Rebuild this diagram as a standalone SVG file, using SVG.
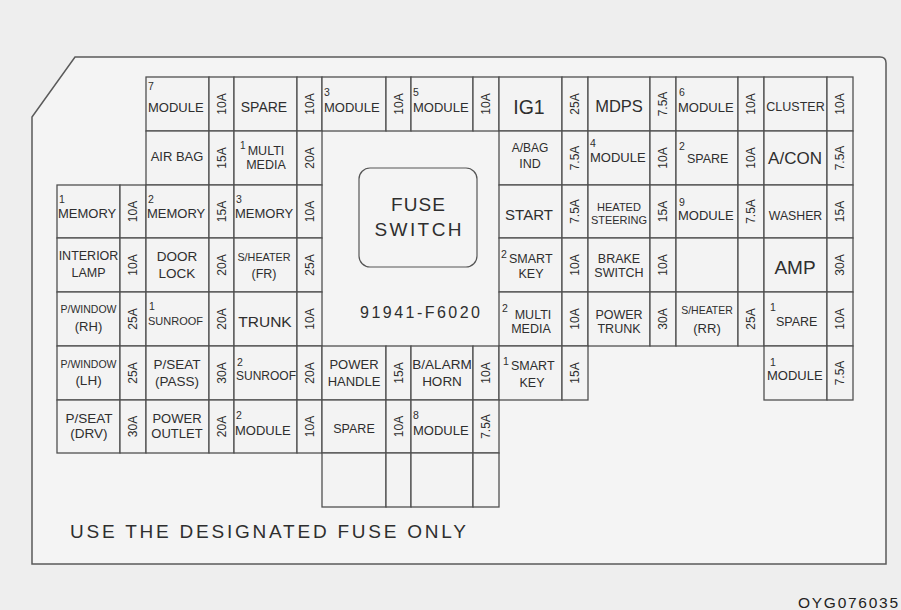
<svg xmlns="http://www.w3.org/2000/svg" width="901" height="610" viewBox="0 0 901 610">
<style>
text{font-family:"Liberation Sans",Arial,Helvetica,sans-serif;fill:#2e2e2e}
.c{fill:#f3f3f3;stroke:#505050;stroke-width:1.3}
.m{text-anchor:middle}
.a{text-anchor:middle;font-size:12px}
.s{font-size:10.5px}
.md{font-size:13px}
</style>
<rect x="0" y="0" width="901" height="610" fill="#eeeeee"/>
<path d="M75,57 H880 Q886,57 886,63 V564 H32 V117 Z" fill="#f4f4f4" stroke="#5a5a5a" stroke-width="1.5"/>
<g id="connectors"/>

<!-- Row 0 -->
<g id="r0B"><rect class="c" x="146" y="77" width="63" height="54"/><rect class="c" x="209" y="77" width="25" height="54"/>
<text class="s" x="148" y="90">7</text><text class="md" x="148" y="112">MODULE</text>
<text class="a" transform="translate(225.8,104) rotate(-90)">10A</text></g>
<g id="r0C"><rect class="c" x="234" y="77" width="63" height="54"/><rect class="c" x="297" y="77" width="25" height="54"/>
<text class="m" x="264" y="112" font-size="14">SPARE</text>
<text class="a" transform="translate(313.8,104) rotate(-90)">10A</text></g>
<g id="r0D"><rect class="c" x="322" y="77" width="64" height="54"/><rect class="c" x="386" y="77" width="25" height="54"/>
<text class="s" x="324" y="96">3</text><text class="md" x="324" y="112">MODULE</text>
<text class="a" transform="translate(402.8,104) rotate(-90)">10A</text></g>
<g id="r0E"><rect class="c" x="411" y="77" width="62" height="54"/><rect class="c" x="473" y="77" width="26" height="54"/>
<text class="s" x="413" y="96">5</text><text class="md" x="413" y="112">MODULE</text>
<text class="a" transform="translate(490.3,104) rotate(-90)">10A</text></g>
<g id="r0F"><rect class="c" x="499" y="77" width="63" height="54"/><rect class="c" x="562" y="77" width="26" height="54"/>
<text class="m" x="529" y="114" font-size="19.5">IG1</text>
<text class="a" transform="translate(579.3,104) rotate(-90)">25A</text></g>
<g id="r0G"><rect class="c" x="588" y="77" width="62" height="54"/><rect class="c" x="650" y="77" width="26" height="54"/>
<text class="m" x="619" y="112" font-size="16.5">MDPS</text>
<text class="a" transform="translate(667.3,104) rotate(-90)">7.5A</text></g>
<g id="r0H"><rect class="c" x="676" y="77" width="62" height="54"/><rect class="c" x="738" y="77" width="26" height="54"/>
<text class="s" x="679" y="96">6</text><text class="md" x="678" y="112">MODULE</text>
<text class="a" transform="translate(755.3,104) rotate(-90)">10A</text></g>
<g id="r0I"><rect class="c" x="764" y="77" width="63" height="54"/><rect class="c" x="827" y="77" width="26" height="54"/>
<text class="m" x="795.5" y="111" font-size="12.5">CLUSTER</text>
<text class="a" transform="translate(844.3,104) rotate(-90)">10A</text></g>

<!-- Row 1 -->
<g id="r1B"><rect class="c" x="146" y="131" width="63" height="54"/><rect class="c" x="209" y="131" width="25" height="54"/>
<text class="m" x="177" y="161" font-size="13">AIR BAG</text>
<text class="a" transform="translate(225.8,158) rotate(-90)">15A</text></g>
<g id="r1C"><rect class="c" x="234" y="131" width="63" height="54"/><rect class="c" x="297" y="131" width="25" height="54"/>
<text x="240" y="149" font-size="10">1</text>
<text class="m" x="266" y="155" font-size="12.5">MULTI</text><text class="m" x="266" y="169" font-size="12.5">MEDIA</text>
<text class="a" transform="translate(313.8,158) rotate(-90)">20A</text></g>
<g id="r1F"><rect class="c" x="499" y="131" width="63" height="54"/><rect class="c" x="562" y="131" width="26" height="54"/>
<text class="m" x="530" y="152" font-size="12">A/BAG</text><text class="m" x="530" y="168" font-size="12.5">IND</text>
<text class="a" transform="translate(579.3,158) rotate(-90)">7.5A</text></g>
<g id="r1G"><rect class="c" x="588" y="131" width="62" height="54"/><rect class="c" x="650" y="131" width="26" height="54"/>
<text class="s" x="590" y="147">4</text><text class="md" x="590" y="162">MODULE</text>
<text class="a" transform="translate(667.3,158) rotate(-90)">10A</text></g>
<g id="r1H"><rect class="c" x="676" y="131" width="62" height="54"/><rect class="c" x="738" y="131" width="26" height="54"/>
<text class="s" x="679" y="150">2</text><text x="687" y="163" font-size="12.5">SPARE</text>
<text class="a" transform="translate(755.3,158) rotate(-90)">10A</text></g>
<g id="r1I"><rect class="c" x="764" y="131" width="63" height="54"/><rect class="c" x="827" y="131" width="26" height="54"/>
<text class="m" x="795" y="164" font-size="17">A/CON</text>
<text class="a" transform="translate(844.3,158) rotate(-90)">7.5A</text></g>

<!-- Row 2 -->
<g id="r2A"><rect class="c" x="57" y="185" width="63" height="53"/><rect class="c" x="120" y="185" width="26" height="53"/>
<text class="s" x="59" y="203">1</text><text class="md" x="58" y="218">MEMORY</text>
<text class="a" transform="translate(137.3,211.5) rotate(-90)">10A</text></g>
<g id="r2B"><rect class="c" x="146" y="185" width="63" height="53"/><rect class="c" x="209" y="185" width="25" height="53"/>
<text class="s" x="148" y="203">2</text><text class="md" x="147" y="218">MEMORY</text>
<text class="a" transform="translate(225.8,211.5) rotate(-90)">15A</text></g>
<g id="r2C"><rect class="c" x="234" y="185" width="63" height="53"/><rect class="c" x="297" y="185" width="25" height="53"/>
<text class="s" x="236" y="203">3</text><text class="md" x="235" y="218">MEMORY</text>
<text class="a" transform="translate(313.8,211.5) rotate(-90)">10A</text></g>
<g id="r2F"><rect class="c" x="499" y="185" width="63" height="53"/><rect class="c" x="562" y="185" width="26" height="53"/>
<text class="m" x="529" y="220" font-size="15">START</text>
<text class="a" transform="translate(579.3,211.5) rotate(-90)">7.5A</text></g>
<g id="r2G"><rect class="c" x="588" y="185" width="62" height="53"/><rect class="c" x="650" y="185" width="26" height="53"/>
<text class="m" x="619" y="211" font-size="11">HEATED</text><text class="m" x="619" y="224" font-size="11">STEERING</text>
<text class="a" transform="translate(667.3,211.5) rotate(-90)">15A</text></g>
<g id="r2H"><rect class="c" x="676" y="185" width="62" height="53"/><rect class="c" x="738" y="185" width="26" height="53"/>
<text class="s" x="679" y="206">9</text><text class="md" x="678" y="220">MODULE</text>
<text class="a" transform="translate(755.3,211.5) rotate(-90)">7.5A</text></g>
<g id="r2I"><rect class="c" x="764" y="185" width="63" height="53"/><rect class="c" x="827" y="185" width="26" height="53"/>
<text class="m" x="795.5" y="220" font-size="12.3">WASHER</text>
<text class="a" transform="translate(844.3,211.5) rotate(-90)">15A</text></g>

<!-- Row 3 -->
<g id="r3A"><rect class="c" x="57" y="238" width="63" height="54"/><rect class="c" x="120" y="238" width="26" height="54"/>
<text class="m" x="88.5" y="260" font-size="12.5">INTERIOR</text><text class="m" x="88.5" y="277" font-size="12.5">LAMP</text>
<text class="a" transform="translate(137.3,265) rotate(-90)">10A</text></g>
<g id="r3B"><rect class="c" x="146" y="238" width="63" height="54"/><rect class="c" x="209" y="238" width="25" height="54"/>
<text class="m" x="177" y="261" font-size="13.5">DOOR</text><text class="m" x="177" y="278" font-size="13.5">LOCK</text>
<text class="a" transform="translate(225.8,265) rotate(-90)">20A</text></g>
<g id="r3C"><rect class="c" x="234" y="238" width="63" height="54"/><rect class="c" x="297" y="238" width="25" height="54"/>
<text class="m" x="264" y="261" font-size="10.8">S/HEATER</text><text class="m" x="264" y="278" font-size="12.5">(FR)</text>
<text class="a" transform="translate(313.8,265) rotate(-90)">25A</text></g>
<g id="r3F"><rect class="c" x="499" y="238" width="63" height="54"/><rect class="c" x="562" y="238" width="26" height="54"/>
<text class="s" x="501" y="258">2</text><text x="509" y="263" font-size="12.5">SMART</text><text class="m" x="531" y="278" font-size="12.5">KEY</text>
<text class="a" transform="translate(579.3,265) rotate(-90)">10A</text></g>
<g id="r3G"><rect class="c" x="588" y="238" width="62" height="54"/><rect class="c" x="650" y="238" width="26" height="54"/>
<text class="m" x="619" y="263" font-size="12.5">BRAKE</text><text class="m" x="619" y="277" font-size="12.5">SWITCH</text>
<text class="a" transform="translate(667.3,265) rotate(-90)">10A</text></g>
<g id="r3H"><rect class="c" x="676" y="238" width="62" height="54"/><rect class="c" x="738" y="238" width="26" height="54"/></g>
<g id="r3I"><rect class="c" x="764" y="238" width="63" height="54"/><rect class="c" x="827" y="238" width="26" height="54"/>
<text class="m" x="795" y="274" font-size="19">AMP</text>
<text class="a" transform="translate(844.3,265) rotate(-90)">30A</text></g>

<!-- Row 4 -->
<g id="r4A"><rect class="c" x="57" y="292" width="63" height="54"/><rect class="c" x="120" y="292" width="26" height="54"/>
<text class="m" x="88.5" y="313" font-size="10.5">P/WINDOW</text><text class="m" x="88.5" y="331" font-size="13">(RH)</text>
<text class="a" transform="translate(137.3,319) rotate(-90)">25A</text></g>
<g id="r4B"><rect class="c" x="146" y="292" width="63" height="54"/><rect class="c" x="209" y="292" width="25" height="54"/>
<text class="s" x="149" y="310">1</text><text x="148" y="325" font-size="11">SUNROOF</text>
<text class="a" transform="translate(225.8,319) rotate(-90)">20A</text></g>
<g id="r4C"><rect class="c" x="234" y="292" width="63" height="54"/><rect class="c" x="297" y="292" width="25" height="54"/>
<text class="m" x="265" y="327" font-size="15.5">TRUNK</text>
<text class="a" transform="translate(313.8,319) rotate(-90)">10A</text></g>
<g id="r4F"><rect class="c" x="499" y="292" width="63" height="54"/><rect class="c" x="562" y="292" width="26" height="54"/>
<text class="s" x="502" y="312">2</text><text class="m" x="533" y="319" font-size="12.5">MULTI</text><text class="m" x="531" y="333" font-size="12.5">MEDIA</text>
<text class="a" transform="translate(579.3,319) rotate(-90)">10A</text></g>
<g id="r4G"><rect class="c" x="588" y="292" width="62" height="54"/><rect class="c" x="650" y="292" width="26" height="54"/>
<text class="m" x="619" y="319" font-size="12.5">POWER</text><text class="m" x="619" y="333" font-size="12.5">TRUNK</text>
<text class="a" transform="translate(667.3,319) rotate(-90)">30A</text></g>
<g id="r4H"><rect class="c" x="676" y="292" width="62" height="54"/><rect class="c" x="738" y="292" width="26" height="54"/>
<text class="m" x="707" y="314" font-size="10.5">S/HEATER</text><text class="m" x="707" y="333" font-size="13">(RR)</text>
<text class="a" transform="translate(755.3,319) rotate(-90)">25A</text></g>
<g id="r4I"><rect class="c" x="764" y="292" width="63" height="54"/><rect class="c" x="827" y="292" width="26" height="54"/>
<text class="s" x="770" y="311">1</text><text x="776" y="326" font-size="12.5">SPARE</text>
<text class="a" transform="translate(844.3,319) rotate(-90)">10A</text></g>

<!-- Row 5 -->
<g id="r5A"><rect class="c" x="57" y="346" width="63" height="54"/><rect class="c" x="120" y="346" width="26" height="54"/>
<text class="m" x="88.5" y="368" font-size="10.5">P/WINDOW</text><text class="m" x="88.5" y="385" font-size="13.5">(LH)</text>
<text class="a" transform="translate(137.3,373) rotate(-90)">25A</text></g>
<g id="r5B"><rect class="c" x="146" y="346" width="63" height="54"/><rect class="c" x="209" y="346" width="25" height="54"/>
<text class="m" x="177" y="369" font-size="13.5">P/SEAT</text><text class="m" x="177" y="386" font-size="13.5">(PASS)</text>
<text class="a" transform="translate(225.8,373) rotate(-90)">30A</text></g>
<g id="r5C"><rect class="c" x="234" y="346" width="63" height="54"/><rect class="c" x="297" y="346" width="25" height="54"/>
<text class="s" x="237" y="366">2</text><text x="236" y="380" font-size="12">SUNROOF</text>
<text class="a" transform="translate(313.8,373) rotate(-90)">20A</text></g>
<g id="r5D"><rect class="c" x="322" y="346" width="64" height="54"/><rect class="c" x="386" y="346" width="25" height="54"/>
<text class="m" x="354" y="369" font-size="13">POWER</text><text class="m" x="354" y="386" font-size="13">HANDLE</text>
<text class="a" transform="translate(402.8,373) rotate(-90)">15A</text></g>
<g id="r5E"><rect class="c" x="411" y="346" width="62" height="54"/><rect class="c" x="473" y="346" width="26" height="54"/>
<text class="m" x="442" y="369" font-size="13.5">B/ALARM</text><text class="m" x="442" y="386" font-size="13.5">HORN</text>
<text class="a" transform="translate(490.3,373) rotate(-90)">10A</text></g>
<g id="r5F"><rect class="c" x="499" y="346" width="63" height="54"/><rect class="c" x="562" y="346" width="26" height="54"/>
<text class="s" x="503" y="365">1</text><text x="511" y="370" font-size="12.5">SMART</text><text class="m" x="532" y="387" font-size="12.5">KEY</text>
<text class="a" transform="translate(579.3,373) rotate(-90)">15A</text></g>
<g id="r5I"><rect class="c" x="764" y="346" width="63" height="54"/><rect class="c" x="827" y="346" width="26" height="54"/>
<text class="s" x="770" y="366">1</text><text class="md" x="767" y="380">MODULE</text>
<text class="a" transform="translate(844.3,373) rotate(-90)">7.5A</text></g>

<!-- Row 6 -->
<g id="r6A"><rect class="c" x="57" y="400" width="63" height="53"/><rect class="c" x="120" y="400" width="26" height="53"/>
<text class="m" x="89" y="423" font-size="13.5">P/SEAT</text><text class="m" x="89" y="438" font-size="13.5">(DRV)</text>
<text class="a" transform="translate(137.3,426.5) rotate(-90)">30A</text></g>
<g id="r6B"><rect class="c" x="146" y="400" width="63" height="53"/><rect class="c" x="209" y="400" width="25" height="53"/>
<text class="m" x="177" y="423" font-size="13">POWER</text><text class="m" x="177" y="438" font-size="13">OUTLET</text>
<text class="a" transform="translate(225.8,426.5) rotate(-90)">20A</text></g>
<g id="r6C"><rect class="c" x="234" y="400" width="63" height="53"/><rect class="c" x="297" y="400" width="25" height="53"/>
<text class="s" x="236" y="419">2</text><text class="md" x="235" y="435">MODULE</text>
<text class="a" transform="translate(313.8,426.5) rotate(-90)">10A</text></g>
<g id="r6D"><rect class="c" x="322" y="400" width="64" height="53"/><rect class="c" x="386" y="400" width="25" height="53"/>
<text class="m" x="354" y="433" font-size="12.5">SPARE</text>
<text class="a" transform="translate(402.8,426.5) rotate(-90)">10A</text></g>
<g id="r6E"><rect class="c" x="411" y="400" width="62" height="53"/><rect class="c" x="473" y="400" width="26" height="53"/>
<text class="s" x="413" y="419">8</text><text class="md" x="413" y="435">MODULE</text>
<text class="a" transform="translate(490.3,426.5) rotate(-90)">7.5A</text></g>

<!-- Row 7 -->
<g id="r7D"><rect class="c" x="322" y="453" width="64" height="54"/><rect class="c" x="386" y="453" width="25" height="54"/></g>
<g id="r7E"><rect class="c" x="411" y="453" width="62" height="54"/><rect class="c" x="473" y="453" width="26" height="54"/></g>

<!-- Fuse switch -->
<g id="fuse-switch">
<rect x="359" y="168" width="118" height="99" rx="11" fill="none" stroke="#555" stroke-width="1.2"/>
<text class="m" x="418" y="211" font-size="19" textLength="54" lengthAdjust="spacing">FUSE</text>
<text class="m" x="418" y="236" font-size="19" textLength="87" lengthAdjust="spacing">SWITCH</text>
</g>
<g id="partno"><text class="m" x="420" y="318" font-size="16" textLength="120" lengthAdjust="spacing">91941-F6020</text></g>
<g id="note"><text x="70" y="538" font-size="19" textLength="396" lengthAdjust="spacing">USE THE DESIGNATED FUSE ONLY</text></g>
<g id="code"><text x="798" y="608" font-size="15.5" textLength="100" lengthAdjust="spacing" style="fill:#222">OYG076035</text></g>
</svg>
